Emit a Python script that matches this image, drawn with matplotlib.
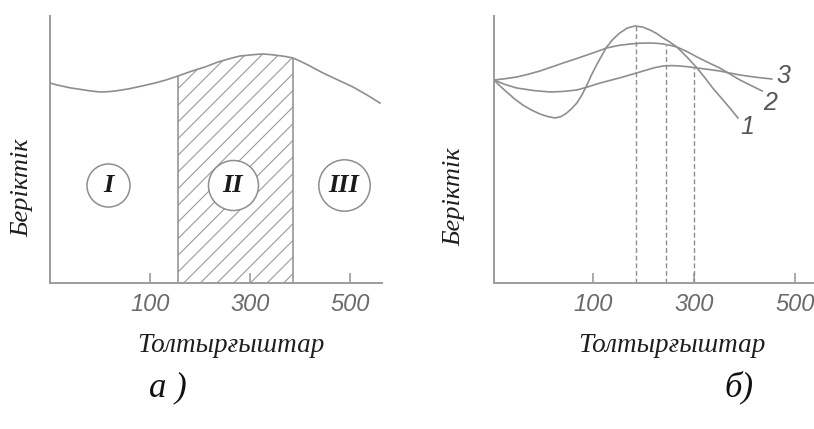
import numpy as np
import matplotlib.pyplot as plt

plt.rcParams['hatch.color'] = '#9a9a9a'
plt.rcParams['hatch.linewidth'] = 0.8

# panel a: strength vs filler content, one curve
a_x = [-100, -86, -72, -58, -44, -22, 0, 15, 30, 43, 56, 70, 84, 97, 110, 121,
       132, 144, 156, 170, 184, 197, 210, 223, 236, 250, 264, 280, 300, 313,
       326, 341, 356, 371, 386, 401, 416, 431, 446, 461, 476, 491, 506, 520,
       534, 547, 560]
a_y = [200, 198, 196.5, 195, 194, 192.3, 191, 191.3, 192, 193, 194, 195.5, 197,
       198.5, 200, 201.5, 203, 205, 207, 209.5, 212, 214, 216, 218.5, 221, 223,
       225, 227, 228, 228.6, 229, 228.4, 227.5, 226.5, 225, 221.7, 218, 214,
       210, 206.5, 203, 199.5, 196, 192, 188, 184, 180]
zone_lo, zone_hi = 156, 386
zones = ['I', 'II', 'III']
zone_x = [16, 266, 488]
zone_y = [98, 98, 98]
zone_size = [31, 36, 37]

# panel b: three curves
b1_x = [-96, -84, -71, -55, -39, -22, -5, 10, 25, 37, 48, 58, 68, 78, 88, 97,
        107, 117, 127, 140, 153, 168, 183, 198, 213, 226, 239, 252, 266, 286,
        306, 322, 337, 354, 371, 387]
b1_y = [203, 197, 191, 184, 178, 173, 169, 166.5, 165, 166.5, 170, 174.5, 180,
        188, 198, 208, 218, 227, 236, 244, 250, 255, 257, 256, 253, 249.5, 245,
        241, 236, 226, 215, 205, 195, 185, 175, 165]
b2_x = [-96, -74, -51, -28, -5, 18, 41, 65, 88, 108, 127, 150, 173, 193, 213,
        226, 239, 252, 266, 286, 306, 328, 351, 371, 391, 413, 435]
b2_y = [203, 204.3, 206, 208.8, 212, 216, 220, 224, 228, 231.5, 235, 237.5, 239,
        239.8, 240, 239.7, 239, 237.8, 236, 231.5, 226, 220.5, 215, 209, 203,
        197.5, 192]
b3_x = [-96, -74, -51, -18, 15, 42, 68, 91, 114, 137, 159, 183, 206, 222, 239,
        256, 272, 289, 306, 328, 351, 371, 391, 422, 454]
b3_y = [203, 198.5, 195, 192.5, 191, 191.6, 193, 196.3, 200, 203, 206, 209.5,
        213, 215.3, 217, 217.4, 217, 216.2, 215, 213.6, 212, 210, 208, 205.8,
        204]
peak_x = [185, 245, 300]
peak_y = [257, 238, 216]
curve_labels = ['1', '2', '3']
label_x = [405, 450, 476]
label_y = [156, 180, 207]

ticks = [100, 300, 500]
line_c = '#8e8e8e'
axis_c = '#9c9c9c'
serif = ['Liberation Serif', 'DejaVu Serif']
narrow = ['Liberation Sans Narrow', 'Liberation Sans', 'DejaVu Sans']

fig = plt.figure(figsize=(8.14, 4.29), dpi=100)
ax1 = fig.add_axes([50 / 814, 1 - 283 / 429, 332 / 814, 267 / 429])
ax2 = fig.add_axes([494 / 814, 1 - 283 / 429, 320 / 814, 267 / 429])


def style(ax, xlim):
    ax.set_xlim(*xlim)
    ax.set_ylim(0, 267)
    for s in ['top', 'right']:
        ax.spines[s].set_visible(False)
    for s in ['left', 'bottom']:
        ax.spines[s].set_color(axis_c)
        ax.spines[s].set_linewidth(1.4)
    ax.set_yticks([])
    ax.set_xticks(ticks)
    ax.set_xticklabels([str(t) for t in ticks], family=narrow, style='italic',
                       fontsize=17, color='#6a6a6a')
    ax.tick_params(axis='x', direction='in', length=7.5, width=1.2,
                   color=axis_c, pad=7)
    ax.patch.set_alpha(0)


style(ax1, (-100, 564))
style(ax2, (-96, 537.6))

# panel a
ax1.plot(a_x, a_y, color=line_c, lw=1.2, zorder=3)
ax_arr = np.array(a_x)
ay_arr = np.array(a_y)
m = (ax_arr >= zone_lo) & (ax_arr <= zone_hi)
ax1.fill_between(ax_arr[m], 0, ay_arr[m], facecolor='white', edgecolor='#9a9a9a',
                 hatch='//', linewidth=0, zorder=1)
ax1.vlines([zone_lo, zone_hi], 0, [ay_arr[m][0], ay_arr[m][-1]], color=line_c,
           lw=1.1, zorder=2)
for lab, x, y, s in zip(zones, zone_x, zone_y, zone_size):
    ax1.plot(x, y, 'o', ms=s, mfc='white', mec=line_c, mew=1.1, zorder=4)
    ax1.text(x, y, lab, ha='center', va='center', family=serif, style='italic',
             weight='bold', fontsize=19, color='#1a1a1a', zorder=5)

# panel b
for xs, ys in [(b1_x, b1_y), (b2_x, b2_y), (b3_x, b3_y)]:
    ax2.plot(xs, ys, color=line_c, lw=1.2, zorder=3)
ax2.vlines(peak_x, 0, peak_y, color=line_c, lw=1.0, linestyles=(0, (3.5, 2)),
           zorder=2)
for lab, x, y in zip(curve_labels, label_x, label_y):
    ax2.text(x, y, lab, ha='center', va='center', family=narrow, style='italic',
             fontsize=18, color='#555555')

# axis titles and panel letters
for cx, cy in [(231, 345), (672, 346)]:
    fig.text(cx / 814, 1 - cy / 429, 'Толтырғыштар', ha='center', va='center',
             family=serif, style='italic', fontsize=19.5, color='#1e1e1e')
for cx, cy in [(22, 188), (454, 197)]:
    fig.text(cx / 814, 1 - cy / 429, 'Беріктік', ha='center', va='center',
             rotation=90, family=serif, style='italic', fontsize=19,
             color='#1e1e1e')
fig.text(168 / 814, 1 - 388 / 429, 'а )', ha='center', va='center',
         family=serif, style='italic', fontsize=25, color='#111111')
fig.text(739 / 814, 1 - 387 / 429, 'б)', ha='center', va='center',
         family=serif, style='italic', fontsize=25, color='#111111')

fig.savefig('out.png', dpi=100)
